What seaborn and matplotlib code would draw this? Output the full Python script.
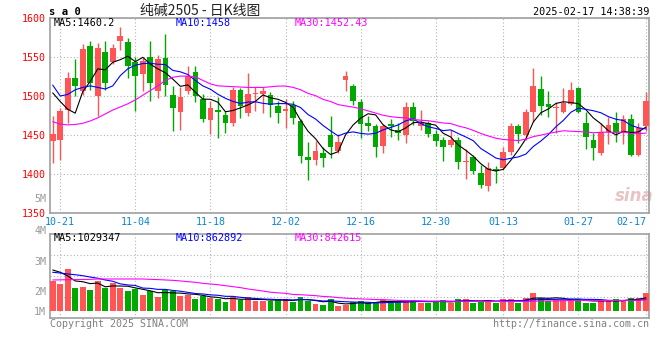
import numpy as np
import pandas as pd
import matplotlib
matplotlib.use("Agg")
import matplotlib.pyplot as plt
import seaborn as sns

# ---------------- data ----------------
open_ = [1442, 1443, 1482, 1523, 1507, 1564, 1500, 1556, 1543, 1570,
         1569, 1543, 1528, 1550, 1506, 1549, 1501, 1480, 1506, 1531,
         1496, 1469, 1482, 1475, 1465, 1508, 1478, 1502, 1502, 1501,
         1487, 1481, 1489, 1468, 1422, 1418, 1427, 1450, 1430, 1521,
         1513, 1492, 1465, 1462, 1436, 1464, 1456, 1450, 1486, 1462,
         1466, 1451, 1444, 1437, 1444, 1415, 1422, 1401, 1385, 1407,
         1408, 1428, 1462, 1450, 1480, 1509, 1490, 1484, 1479, 1490,
         1510, 1466, 1444, 1427, 1454, 1466, 1452, 1470, 1424, 1461]
high = [1475, 1485, 1531, 1547, 1567, 1570, 1568, 1571, 1567, 1589,
        1575, 1550, 1549, 1570, 1553, 1579, 1513, 1511, 1539, 1539,
        1502, 1493, 1499, 1481, 1512, 1510, 1530, 1511, 1512, 1505,
        1494, 1496, 1493, 1471, 1441, 1442, 1434, 1475, 1451, 1532,
        1516, 1496, 1474, 1464, 1464, 1471, 1466, 1492, 1492, 1482,
        1468, 1457, 1447, 1457, 1447, 1432, 1425, 1411, 1415, 1410,
        1435, 1466, 1464, 1483, 1536, 1526, 1506, 1492, 1510, 1518,
        1511, 1480, 1452, 1465, 1473, 1480, 1476, 1477, 1466, 1505]
low = [1414, 1418, 1465, 1500, 1501, 1508, 1474, 1508, 1541, 1559,
       1523, 1481, 1506, 1493, 1497, 1500, 1455, 1456, 1502, 1492,
       1467, 1451, 1446, 1453, 1461, 1472, 1474, 1481, 1478, 1473,
       1465, 1459, 1464, 1414, 1392, 1412, 1409, 1420, 1427, 1507,
       1489, 1446, 1455, 1422, 1427, 1447, 1444, 1440, 1463, 1456,
       1447, 1436, 1417, 1434, 1406, 1393, 1400, 1382, 1378, 1388,
       1405, 1425, 1440, 1443, 1467, 1476, 1473, 1452, 1478, 1488,
       1478, 1432, 1418, 1424, 1439, 1441, 1439, 1423, 1423, 1455]
close = [1451, 1481, 1523, 1513, 1560, 1517, 1561, 1517, 1561, 1577,
         1539, 1526, 1545, 1517, 1547, 1514, 1485, 1499, 1526, 1500,
         1470, 1484, 1480, 1465, 1508, 1487, 1503, 1503, 1506, 1489,
         1478, 1483, 1472, 1423, 1418, 1430, 1420, 1434, 1441, 1526,
         1493, 1464, 1462, 1434, 1462, 1461, 1452, 1486, 1468, 1466,
         1451, 1442, 1434, 1444, 1415, 1417, 1404, 1386, 1408, 1404,
         1428, 1462, 1451, 1480, 1513, 1487, 1486, 1486, 1491, 1508,
         1480, 1447, 1433, 1454, 1463, 1454, 1470, 1424, 1459, 1494]
# volume in millions of lots
volume_m = [2.46, 2.19, 3.42, 1.86, 1.94, 1.69, 2.43, 1.86, 2.24, 1.89,
            1.61, 1.75, 1.28, 1.61, 1.12, 1.67, 1.61, 1.20, 1.28, 0.96,
            1.23, 1.01, 0.96, 0.74, 1.09, 0.87, 1.09, 0.79, 0.79, 0.79,
            0.96, 0.96, 0.71, 1.15, 0.79, 0.55, 0.46, 0.93, 0.38, 0.46,
            0.71, 0.79, 0.66, 0.74, 0.87, 0.74, 0.74, 0.87, 0.79, 0.66,
            0.66, 0.79, 0.87, 0.60, 0.96, 0.96, 0.66, 0.79, 0.79, 0.66,
            0.96, 0.96, 0.66, 1.07, 1.48, 1.04, 0.82, 0.87, 0.87, 0.87,
            0.93, 0.66, 0.66, 0.87, 0.87, 0.93, 0.79, 1.04, 1.04, 1.48]

# moving-average values before the window is full (they use earlier sessions)
ma5_head = [1504, 1493, 1483, 1478]
ma10_head = [1514, 1500, 1502, 1508, 1511, 1513, 1511, 1509, 1513]
ma30_head = [1467, 1464, 1463, 1463.5, 1465, 1468, 1472, 1477, 1482, 1486,
             1490, 1495, 1501, 1507, 1513, 1520, 1524, 1525.5, 1525.5, 1524.5,
             1520, 1515.5, 1513, 1512.5, 1512, 1511.5, 1511, 1511, 1511]
vma5_head = [3.34, 3.15, 2.85, 2.44]
vma10_head = [3.15, 3.09, 3.01, 2.95, 2.87, 2.76, 2.66, 2.52, 2.41]
vma30_head = [2.52, 2.53, 2.54, 2.55, 2.56, 2.57, 2.60, 2.60, 2.60, 2.60,
              2.60, 2.60, 2.60, 2.57, 2.55, 2.52, 2.49, 2.44, 2.38, 2.33,
              2.24, 2.19, 2.13, 2.05, 1.97, 1.89, 1.78, 1.70, 1.61]

tick_labels = ["10-21", "11-04", "11-18", "12-02", "12-16",
               "12-30", "01-13", "01-27", "02-17"]
price_ticks = [1350, 1400, 1450, 1500, 1550, 1600]
vol_tick_labels = ["1M", "2M", "3M"]

holidays = ["2025-01-01", "2025-01-28", "2025-01-29", "2025-01-30",
            "2025-01-31", "2025-02-03", "2025-02-04"]
dates = [d for d in pd.bdate_range("2024-10-18", "2025-02-17")
         if d.strftime("%Y-%m-%d") not in holidays]
date_str = [d.strftime("%m-%d") for d in dates]

# ---------------- derived ----------------
n = len(close)
idx = np.arange(n)
o = np.array(open_, float); c = np.array(close, float)
h = np.array(high, float); l = np.array(low, float)
v = np.array(volume_m, float)


def moving(series, win, head):
    m = pd.Series(series).rolling(win).mean().to_numpy()
    m[:win - 1] = head
    return m


ma5, ma10, ma30 = moving(c, 5, ma5_head), moving(c, 10, ma10_head), moving(c, 30, ma30_head)
vma5, vma10, vma30 = moving(v, 5, vma5_head), moving(v, 10, vma10_head), moving(v, 30, vma30_head)

RED, GREEN = "#ff5555", "#00a800"
BLUE_TXT = "#0a84d6"
GRID = "#b4b4b4"
FRAME = "#a0a0a0"
up = c >= o
colors = np.where(up, RED, GREEN)

sns.set_style("white")
MONO = "DejaVu Sans Mono"
plt.rcParams["font.family"] = [MONO, "DejaVu Sans"]

W, H = 660, 360
fig = plt.figure(figsize=(W / 100, H / 100), dpi=100)
fig.patch.set_facecolor("white")


def rect(left, top, right, bottom):
    return [left / W, 1 - bottom / H, (right - left) / W, (bottom - top) / H]


ax = fig.add_axes(rect(50, 18, 649, 213))
axv = fig.add_axes(rect(50, 234, 649, 318))

tick_pos = [date_str.index(t) for t in tick_labels]

# ---------------- price panel ----------------
ax.vlines(idx, l, h, colors=colors, linewidth=1.0, zorder=3)
body = np.maximum(np.abs(c - o), 1.3)
ax.bar(idx, body, bottom=np.minimum(o, c), width=0.76, color=colors,
       linewidth=0, zorder=4)
sns.lineplot(x=idx, y=ma5, ax=ax, color="black", linewidth=0.8, zorder=5)
sns.lineplot(x=idx, y=ma10, ax=ax, color="#0000ff", linewidth=0.8, zorder=5)
sns.lineplot(x=idx, y=ma30, ax=ax, color="#ff00ff", linewidth=0.8, zorder=5)

ax.set_xlim(-0.36, n - 0.6)
ax.set_ylim(price_ticks[0], price_ticks[-1])
ax.set_yticks(price_ticks)
ax.set_yticklabels([str(t) for t in price_ticks], color="red", fontsize=7.2)
ax.set_xticks(tick_pos)
ax.set_xticklabels(tick_labels, color=BLUE_TXT, fontsize=7.2)
ax.get_xticklabels()[-1].set_ha("right")
ax.tick_params(length=0, pad=3)
ax.set_xlabel(""); ax.set_ylabel("")
ax.grid(True, color=GRID, linestyle=(0, (1, 2)), linewidth=0.8)
ax.set_axisbelow(True)
for s in ax.spines.values():
    s.set_color(FRAME); s.set_linewidth(1.2)

ax.text(0.006, 0.973, "MA5:1460.2", transform=ax.transAxes, color="black",
        fontsize=7.3, va="center", ha="left", zorder=6)
ax.text(0.209, 0.973, "MA10:1458", transform=ax.transAxes, color="#0000ff",
        fontsize=7.3, va="center", ha="left", zorder=6)
ax.text(0.409, 0.973, "MA30:1452.43", transform=ax.transAxes, color="#ff00ff",
        fontsize=7.3, va="center", ha="left", zorder=6)
ax.text(0.975, 0.085, "sina", transform=ax.transAxes, color="#e3b5b5",
        fontsize=12, fontweight="bold", style="italic", ha="center",
        va="center", family="DejaVu Sans", alpha=0.8, zorder=1)

# ---------------- volume panel ----------------
axv.bar(idx, v, width=0.78, color=colors, linewidth=0, zorder=3)
sns.lineplot(x=idx, y=vma5, ax=axv, color="black", linewidth=0.8, zorder=5)
sns.lineplot(x=idx, y=vma10, ax=axv, color="#0000ff", linewidth=0.8, zorder=5)
sns.lineplot(x=idx, y=vma30, ax=axv, color="#ff00ff", linewidth=0.8, zorder=5)

vlo, vhi = -0.60, 6.29
axv.set_xlim(ax.get_xlim())
axv.set_ylim(vlo, vhi)
axv.set_xticks(tick_pos)
axv.tick_params(axis="x", labelbottom=False, length=0)
axv.set_yticks([0.0, 1.615, 4.075])
axv.set_yticklabels(vol_tick_labels, color="#999999", fontsize=7.2)
axv.set_yticks([vlo + k * (vhi - vlo) / 4 for k in (1, 2, 3)], minor=True)
axv.tick_params(axis="y", which="both", length=0, pad=3)
axv.set_xlabel(""); axv.set_ylabel("")
axv.grid(True, axis="x", color=GRID, linestyle=(0, (1, 2)), linewidth=0.8)
axv.grid(True, axis="y", which="minor", color=GRID, linestyle=(0, (1, 2)), linewidth=0.8)
axv.grid(False, axis="y", which="major")
axv.set_axisbelow(True)
for s in axv.spines.values():
    s.set_color(FRAME); s.set_linewidth(1.2)
ytr = axv.get_yaxis_transform()
axv.text(-0.0065, 6.54, "4M", transform=ytr, color="#999999", fontsize=7.2,
         ha="right", va="center")
axv.text(-0.0065, 9.16, "5M", transform=ytr, color="#999999", fontsize=7.2,
         ha="right", va="center")

axv.text(0.006, 0.955, "MA5:1029347", transform=axv.transAxes, color="black",
         fontsize=7.3, va="center", ha="left", zorder=6)
axv.text(0.209, 0.955, "MA10:862892", transform=axv.transAxes, color="#0000ff",
         fontsize=7.3, va="center", ha="left", zorder=6)
axv.text(0.409, 0.955, "MA30:842615", transform=axv.transAxes, color="#ff00ff",
         fontsize=7.3, va="center", ha="left", zorder=6)

# ---------------- header / footer ----------------
fig.text(49 / W, 1 - 12 / H, "s a 0", fontsize=7.6, fontweight="bold",
         color="black", ha="left", va="center")
fig.text(200 / W, 1 - 11 / H, "纯碱2505 - 日K线图", fontsize=10,
         family=["Noto Sans CJK SC", "DejaVu Sans"], color="#222222",
         ha="center", va="center")
fig.text(649 / W, 1 - 12 / H, "2025-02-17 14:38:39", fontsize=7.3,
         color="black", ha="right", va="center")
fig.text(50 / W, 1 - 324 / H, "Copyright 2025 SINA.COM", fontsize=7.2,
         color="#808080", ha="left", va="center")
fig.text(649 / W, 1 - 324 / H, "http://finance.sina.com.cn", fontsize=7.2,
         color="#808080", ha="right", va="center")

fig.savefig("out.png", dpi=100, facecolor="white")
